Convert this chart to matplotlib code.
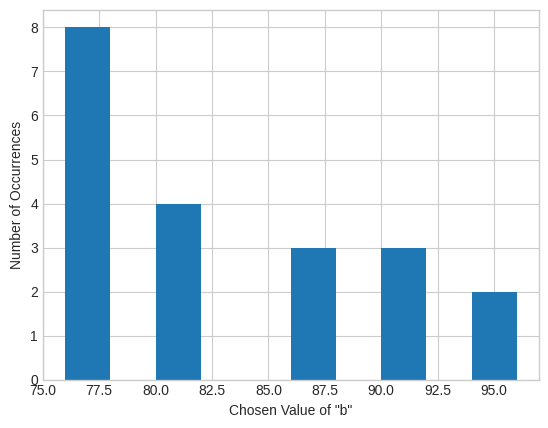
import numpy as np
import matplotlib
matplotlib.use('Agg')
import matplotlib.pyplot as plt

# histogram of chosen "b" values, 10 bins over 76..96
bin_edges = [76, 78, 80, 82, 84, 86, 88, 90, 92, 94, 96]
counts = [8, 0, 4, 0, 0, 3, 0, 3, 0, 2]

plt.style.use('seaborn-v0_8-whitegrid')
fig = plt.figure(figsize=(5.48, 4.28), dpi=100)
ax = fig.add_axes([0.078, 0.113, 0.906, 0.864])

ax.hist(bin_edges[:-1], bins=bin_edges, weights=counts, color='#1f77b4')
ax.set_xlim(75, 97)
ax.set_xlabel('Chosen Value of "b"')
ax.set_ylabel('Number of Occurrences')

fig.savefig('out.png', dpi=100)
